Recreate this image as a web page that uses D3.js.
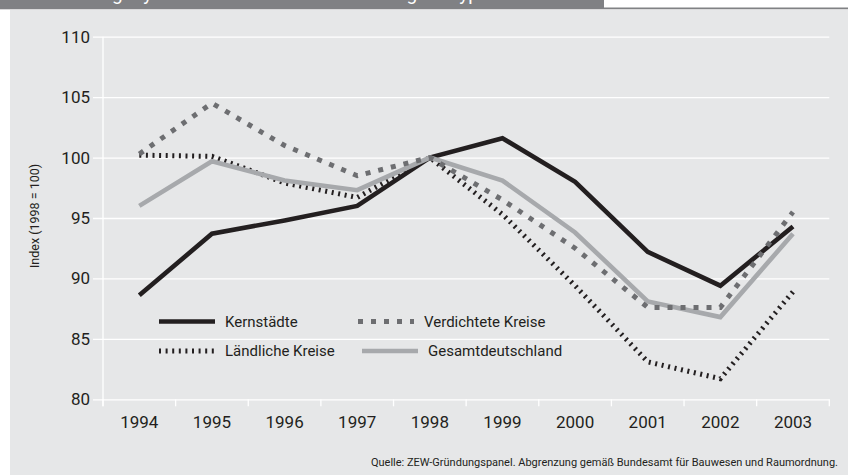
<html>
<head>
    <script src="https://d3js.org/d3.v7.min.js"></script>
</head>
<style>
    body { margin: 0; }
    text { font-family: Roboto, "Open Sans", sans-serif; fill: #231f20; }
</style>
<body>
    <svg height="475" width="848" id="chart"></svg>
</body>
<script>

    // data
    const years = ['1994','1995','1996','1997','1998','1999','2000','2001','2002','2003'];
    const kernstaedte = [88.6, 93.7, 94.8, 96.0, 100, 101.6, 98.0, 92.2, 89.4, 94.3];
    const verdichtete = [100.3, 104.5, 101.0, 98.5, 100, 96.5, 92.5, 87.6, 87.6, 95.5];
    const laendliche = [100.2, 100.1, 97.9, 96.7, 100, 95.3, 89.4, 83.1, 81.7, 88.9];
    const gesamt = [96.0, 99.7, 98.1, 97.3, 100, 98.1, 93.8, 88.1, 86.8, 93.7];
    const yTicks = [80, 85, 90, 95, 100, 105, 110];

    const titleText = 'Gründungsdynamik in Deutschland nach Regionstyp';
    const yLabel = 'Index (1998 = 100)';
    const sourceText = 'Quelle: ZEW-Gründungspanel. Abgrenzung gemäß Bundesamt für Bauwesen und Raumordnung.';

    let svg = d3.select('svg#chart');
    let width = +svg.attr('width');
    let height = +svg.attr('height');

    let margins = { "top": 36.7, "right": 18.7, "bottom": 75.7, "left": 103 };
    let inner_width = width - margins.left - margins.right;
    let inner_height = height - margins.top - margins.bottom;

    // background panel and header band
    svg.append('rect').attr('x', 10).attr('y', 10).attr('width', width - 10).attr('height', height - 10)
        .attr('fill', '#e6e7e8');
    svg.append('rect').attr('x', 0).attr('y', 0).attr('width', width).attr('height', 10)
        .attr('fill', '#ffffff');
    svg.append('rect').attr('x', 0).attr('y', 0).attr('width', 604).attr('height', 9)
        .attr('fill', '#808184');
    svg.append('rect').attr('x', 0).attr('y', 7.5).attr('width', width).attr('height', 1.8)
        .attr('fill', '#808184');
    // title sits above the visible area, only its descenders show
    svg.append('text')
        .attr('x', 40).attr('y', 0)
        .style('fill', '#ffffff')
        .style('font-size', '19px')
        .text(titleText);

    let x = d3.scaleBand()
        .domain(years)
        .range([0, inner_width]);

    let y = d3.scaleLinear()
        .domain([80, 110])
        .range([inner_height, 0]);

    let plot = svg.append('g')
        .attr('transform', `translate(${margins.left},${margins.top})`);

    // y axis with white gridlines
    let yAxis = d3.axisLeft(y).tickValues(yTicks).tickSize(-inner_width).tickPadding(13);
    let gy = plot.append('g').call(yAxis);
    gy.select('.domain').remove();
    gy.selectAll('.tick line').attr('x1', -10).attr('stroke', '#ffffff').attr('stroke-width', 1.3);
    gy.selectAll('.tick text').style('font-size', '17px').attr('fill', '#231f20');

    // vertical axis line
    plot.append('line')
        .attr('x1', 0).attr('x2', 0).attr('y1', 0).attr('y2', inner_height + 7)
        .attr('stroke', '#ffffff').attr('stroke-width', 1.3);

    // x axis: labels centred in bands, ticks on band borders
    let xAxis = d3.axisBottom(x).tickSize(0).tickPadding(17);
    let gx = plot.append('g').attr('transform', `translate(0,${inner_height})`).call(xAxis);
    gx.select('.domain').remove();
    gx.selectAll('.tick text').style('font-size', '17px').attr('fill', '#231f20');

    let borders = years.map(d => x(d)).concat([x(years[years.length - 1]) + x.bandwidth()]);
    plot.append('g').selectAll('line.xtick')
        .data(borders)
        .join('line')
        .attr('class', 'xtick')
        .attr('x1', d => d).attr('x2', d => d)
        .attr('y1', inner_height).attr('y2', inner_height + 7)
        .attr('stroke', '#ffffff').attr('stroke-width', 1.3);

    // y axis title
    svg.append('text')
        .attr('transform', 'translate(39,216) rotate(-90)')
        .attr('text-anchor', 'middle')
        .style('font-size', '12.5px')
        .text(yLabel);

    let series = [
        { name: 'Kernstädte', values: kernstaedte, color: '#231f20', width: 4.6, dash: null },
        { name: 'Ländliche Kreise', values: laendliche, color: '#231f20', width: 5, dash: '2,4.6' },
        { name: 'Gesamtdeutschland', values: gesamt, color: '#a7a9ac', width: 4.6, dash: null },
        { name: 'Verdichtete Kreise', values: verdichtete, color: '#6d6e71', width: 5, dash: '5,8' }
    ];

    let line = d3.line()
        .x((d, i) => x(years[i]) + x.bandwidth() / 2)
        .y(d => y(d));

    plot.selectAll('path.series')
        .data(series)
        .join('path')
        .attr('class', 'series')
        .attr('d', d => line(d.values))
        .attr('fill', 'none')
        .attr('stroke', d => d.color)
        .attr('stroke-width', d => d.width)
        .attr('stroke-dasharray', d => d.dash)
        .attr('stroke-linejoin', 'miter');

    // legend
    let legendPos = {
        'Kernstädte': [159, 321.5],
        'Verdichtete Kreise': [358, 321.5],
        'Ländliche Kreise': [159, 351],
        'Gesamtdeutschland': [362, 351]
    };

    let legend = svg.append('g').selectAll('g.legend')
        .data(series)
        .join('g')
        .attr('class', 'legend')
        .attr('transform', d => `translate(${legendPos[d.name][0]},${legendPos[d.name][1]})`);

    legend.append('line')
        .attr('x1', 0).attr('x2', 56).attr('y1', 0).attr('y2', 0)
        .attr('stroke', d => d.color)
        .attr('stroke-width', d => d.width)
        .attr('stroke-dasharray', d => d.dash);

    legend.append('text')
        .attr('x', 66).attr('y', 5)
        .style('font-size', '15px')
        .text(d => d.name);

    // source note
    svg.append('text')
        .attr('x', 838).attr('y', 466)
        .attr('text-anchor', 'end')
        .style('font-size', '11px')
        .text(sourceText);

</script>
</html>
